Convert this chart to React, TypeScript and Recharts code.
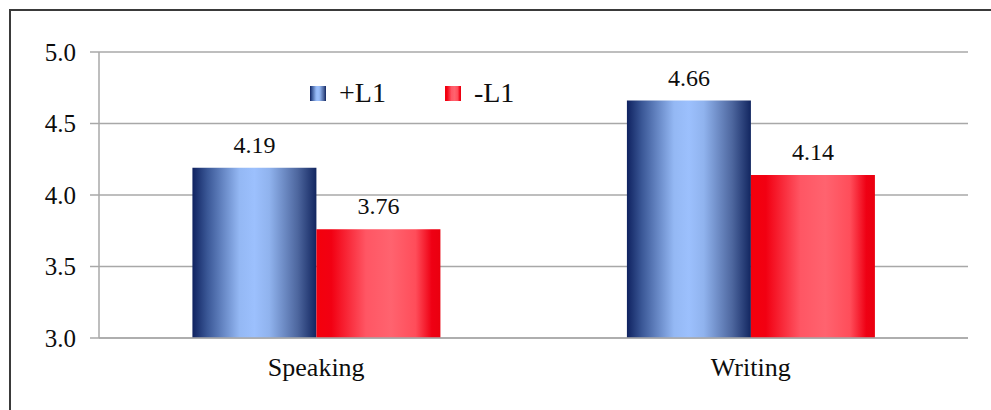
import React from "react";
import {
  BarChart,
  Bar,
  XAxis,
  YAxis,
  CartesianGrid,
  Legend,
  LabelList,
  Customized,
} from "recharts";

const skills = ["Speaking", "Writing"];
const withL1 = [4.19, 4.66];
const withoutL1 = [3.76, 4.14];
const yTicks = [3.0, 3.5, 4.0, 4.5, 5.0];

const rows = skills.map((skill, i) => ({
  skill,
  plus: withL1[i],
  minus: withoutL1[i],
}));

const font = "Liberation Serif, Tinos, DejaVu Serif, serif";
const gridGray = "#a8a8a8";
const ink = "#0d0d0d";

const legendItems = [
  { label: "+L1", fill: "url(#blueBar)" },
  { label: "-L1", fill: "url(#redBar)" },
];

function LegendBox() {
  return (
    <div style={{ display: "flex", alignItems: "center", fontFamily: font, fontSize: 28, color: ink }}>
      {legendItems.map((item) => (
        <div key={item.label} style={{ display: "flex", alignItems: "center", marginRight: 59 }}>
          <svg width={16} height={15} style={{ marginRight: 13 }}>
            <rect x={0} y={0} width={16} height={15} fill={item.fill} />
          </svg>
          <span>{item.label}</span>
        </div>
      ))}
    </div>
  );
}

// Excel-style tick marks at the category boundaries, under the x axis
function CategoryEdges(props: any) {
  const { offset } = props;
  if (!offset) return null;
  const { left, width, top, height } = offset;
  const y = top + height;
  const step = width / skills.length;
  return (
    <g>
      {Array.from({ length: skills.length + 1 }, (_, i) => (
        <line
          key={i}
          x1={left + i * step}
          x2={left + i * step}
          y1={y}
          y2={y + 7}
          stroke={gridGray}
          strokeWidth={1.5}
        />
      ))}
    </g>
  );
}

export default function App() {
  return (
    <div style={{ position: "relative", width: 991, height: 410, background: "#fff", overflow: "hidden" }}>
      <style>{"body{margin:0}"}</style>
      <div
        style={{
          position: "absolute",
          left: 9,
          top: 9,
          width: 1000,
          height: 420,
          borderLeft: "2px solid #3a3a3a",
          borderTop: "2px solid #3a3a3a",
        }}
      />
      <BarChart
        width={991}
        height={410}
        data={rows}
        margin={{ top: 52, right: 23, bottom: 32, left: 0 }}
        barGap={0}
        barCategoryGap="21.5%"
      >
        <defs>
          <linearGradient id="blueBar" x1="0" y1="0" x2="1" y2="0">
            <stop offset="0%" stopColor="#0f2260" />
            <stop offset="12%" stopColor="#3a5796" />
            <stop offset="38%" stopColor="#94b8f4" />
            <stop offset="50%" stopColor="#9cc0fd" />
            <stop offset="62%" stopColor="#90b3ee" />
            <stop offset="85%" stopColor="#4d669e" />
            <stop offset="100%" stopColor="#122660" />
          </linearGradient>
          <linearGradient id="redBar" x1="0" y1="0" x2="1" y2="0">
            <stop offset="0%" stopColor="#f4000c" />
            <stop offset="12%" stopColor="#f20012" />
            <stop offset="40%" stopColor="#ff5664" />
            <stop offset="60%" stopColor="#ff636f" />
            <stop offset="80%" stopColor="#ff4d5a" />
            <stop offset="93%" stopColor="#ef0014" />
            <stop offset="100%" stopColor="#ea000f" />
          </linearGradient>
        </defs>
        <CartesianGrid vertical={false} stroke={gridGray} strokeWidth={1.5} />
        <XAxis
          dataKey="skill"
          height={40}
          tickLine={false}
          axisLine={{ stroke: gridGray, strokeWidth: 1.5 }}
          tick={{ fontFamily: font, fontSize: 26, fill: ink }}
          tickMargin={14}
        />
        <YAxis
          width={99}
          domain={[3, 5]}
          ticks={yTicks}
          interval={0}
          tickFormatter={(v: number) => v.toFixed(1)}
          axisLine={{ stroke: gridGray, strokeWidth: 1.5 }}
          tickLine={{ stroke: gridGray, strokeWidth: 1.5 }}
          tickSize={9}
          tickMargin={14}
          tick={{ fontFamily: font, fontSize: 25, fill: ink }}
        />
        <Legend
          verticalAlign="middle"
          content={() => <LegendBox />}
          wrapperStyle={{ top: 77, left: 310, width: 320 }}
        />
        <Bar dataKey="plus" name="+L1" fill="url(#blueBar)" isAnimationActive={false}>
          <LabelList
            dataKey="plus"
            position="top"
            offset={15}
            formatter={(v: any) => Number(v).toFixed(2)}
            style={{ fontFamily: font, fontSize: 24, fill: ink }}
          />
        </Bar>
        <Bar dataKey="minus" name="-L1" fill="url(#redBar)" isAnimationActive={false}>
          <LabelList
            dataKey="minus"
            position="top"
            offset={15}
            formatter={(v: any) => Number(v).toFixed(2)}
            style={{ fontFamily: font, fontSize: 24, fill: ink }}
          />
        </Bar>
        <Customized component={CategoryEdges} />
      </BarChart>
    </div>
  );
}
